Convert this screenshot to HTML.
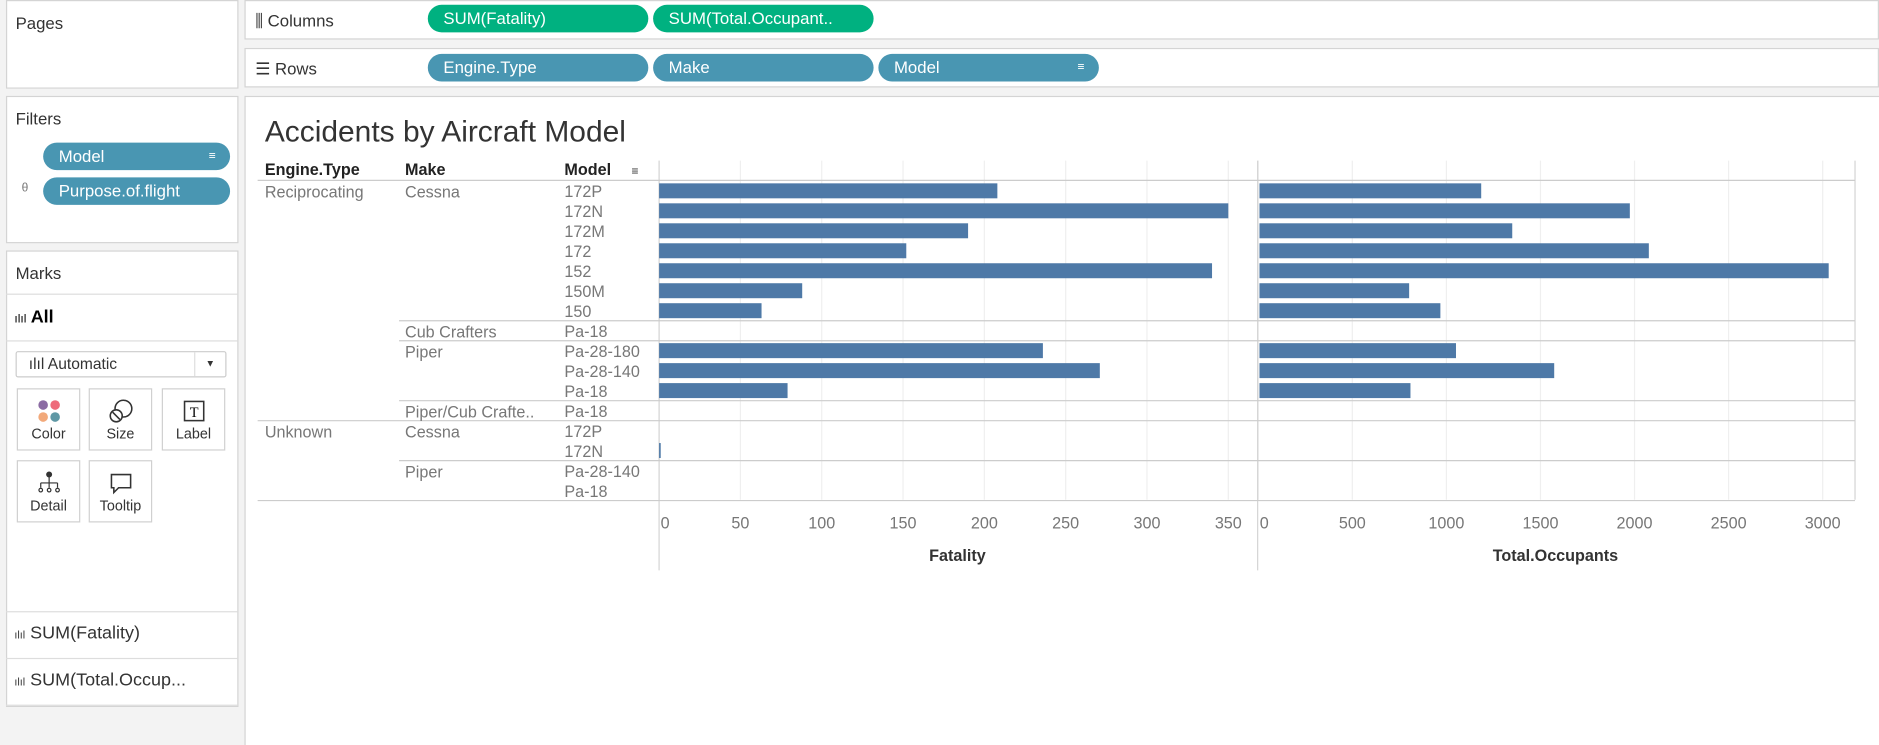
<!DOCTYPE html>
<html><head><meta charset="utf-8">
<style>
html,body{margin:0;padding:0;width:1879px;height:745px;overflow:hidden;background:#f3f3f3;font-family:"Liberation Sans",sans-serif;}
#wrap{position:absolute;left:0;top:0;width:1568px;height:622px;transform:scale(1.19834);transform-origin:0 0;}
.panel{position:absolute;background:#fff;border:1px solid #d4d4d4;box-sizing:border-box;}
.t{position:absolute;font-size:14px;color:#333;white-space:nowrap;}
.pill{position:absolute;height:23px;border-radius:12px;color:#fff;font-size:14px;line-height:23px;padding-left:13px;box-sizing:border-box;white-space:nowrap;overflow:hidden;}
.g{background:#00b180}.b{background:#4996b2}
.btn{position:absolute;width:53px;height:52px;border:1px solid #d0d0d0;box-sizing:border-box;background:#fff;font-size:12px;color:#333;text-align:center;}
.btn span{position:absolute;left:0;right:0;bottom:6px}
.sep{position:absolute;left:5px;width:193px;height:1px;background:#ddd}
</style></head><body>
<div id="wrap">
<div class="panel" style="left:5px;top:0;width:194px;height:74px"><div class="t" style="left:7px;top:10px">Pages</div></div>
<div class="panel" style="left:204px;top:0;width:1364px;height:33px">
 <div class="t" style="left:8px;top:8px">⫼ Columns</div>
</div>
<div class="pill g" style="left:357px;top:4px;width:184px">SUM(Fatality)</div>
<div class="pill g" style="left:545px;top:4px;width:184px">SUM(Total.Occupant..</div>
<div class="panel" style="left:204px;top:40px;width:1364px;height:33px">
 <div class="t" style="left:8px;top:8px">☰ Rows</div>
</div>
<div class="pill b" style="left:357px;top:45px;width:184px">Engine.Type</div>
<div class="pill b" style="left:545px;top:45px;width:184px">Make</div>
<div class="pill b" style="left:733px;top:45px;width:184px">Model<span style="position:absolute;right:12px;font-size:10px">≡</span></div>

<div class="panel" style="left:5px;top:80px;width:194px;height:123px"><div class="t" style="left:7px;top:10px">Filters</div></div>
<div class="pill b" style="left:36px;top:119px;width:156px">Model<span style="position:absolute;right:12px;font-size:10px">≡</span></div>
<div class="t" style="left:18px;top:152px;font-size:10px;color:#777">θ</div>
<div class="pill b" style="left:36px;top:148px;width:156px">Purpose.of.flight</div>

<div class="panel" style="left:5px;top:209px;width:194px;height:381px">
 <div class="t" style="left:7px;top:10px">Marks</div>
</div>
<div class="sep" style="top:245px"></div>
<div class="t" style="left:12px;top:256px;font-size:15px;font-weight:bold;color:#000"><span style="font-size:10px;font-weight:normal">ılıl</span> All</div>
<div class="sep" style="top:284px"></div>
<div style="position:absolute;left:13px;top:293px;width:176px;height:22px;border:1px solid #ccc;border-radius:2px;background:#fff;box-sizing:border-box;font-size:13px;color:#333;line-height:20px;padding-left:10px">ılıl Automatic<span style="position:absolute;right:0;top:0;width:25px;height:20px;border-left:1px solid #ddd;text-align:center;font-size:8px">▼</span></div>
<div class="btn" style="left:14px;top:324px"><svg width="20" height="20" style="margin-top:8px"><circle cx="5" cy="5" r="4" fill="#8b6ba3"/><circle cx="15" cy="5" r="4" fill="#ee6a7a"/><circle cx="5" cy="15" r="4" fill="#f2a97a"/><circle cx="15" cy="15" r="4" fill="#5f98a5"/></svg><span>Color</span></div>
<div class="btn" style="left:74px;top:324px"><svg width="22" height="22" style="margin-top:7px" fill="none" stroke="#333" stroke-width="1.3"><circle cx="13" cy="9" r="7"/><circle cx="7" cy="15" r="5" fill="#fff"/><line x1="4" y1="12" x2="10" y2="18"/></svg><span>Size</span></div>
<div class="btn" style="left:135px;top:324px"><svg width="20" height="20" style="margin-top:8px"><rect x="2" y="2" width="16" height="16" fill="none" stroke="#333" stroke-width="1.3"/><text x="10" y="15" font-size="12" text-anchor="middle" font-family="Liberation Serif">T</text></svg><span>Label</span></div>
<div class="btn" style="left:14px;top:384px"><svg width="20" height="20" style="margin-top:8px" stroke="#333" fill="none"><circle cx="10" cy="3" r="2" fill="#333"/><path d="M10 5v5M3 10h14M3 10v4M10 10v4M17 10v4"/><circle cx="3" cy="16" r="1.5"/><circle cx="10" cy="16" r="1.5"/><circle cx="17" cy="16" r="1.5"/></svg><span>Detail</span></div>
<div class="btn" style="left:74px;top:384px"><svg width="20" height="20" style="margin-top:8px" stroke="#333" fill="none" stroke-width="1.3"><path d="M2 3h16v11H8l-4 4v-4H2z"/></svg><span>Tooltip</span></div>
<div class="sep" style="top:510px"></div>
<div class="t" style="left:12px;top:520px;font-size:15px"><span style="font-size:9px">ılıl</span> SUM(Fatality)</div>
<div class="sep" style="top:549px"></div>
<div class="t" style="left:12px;top:559px;font-size:15px"><span style="font-size:9px">ılıl</span> SUM(Total.Occup...</div>
<div class="sep" style="top:588px"></div>

<div class="panel" style="left:204px;top:80px;width:1364px;height:542px;border-right:none;border-bottom:none"></div>
<svg id="chart" style="position:absolute;left:0;top:0" width="1568" height="622" font-family="Liberation Sans, sans-serif"></svg>
</div>
<script>
const models=["172P","172N","172M","172","152","150M","150","Pa-18","Pa-28-180","Pa-28-140","Pa-18","Pa-18","172P","172N","Pa-28-140","Pa-18"];
const fatality=[208,350,190,152,340,88,63,0,236,271,79,0,0,1,0,0];
const occupants=[1185,1975,1350,2076,3032,802,968,0,1051,1573,809,0,0,0,0,0];
const fatTicks=[0,50,100,150,200,250,300,350];
const occTicks=[0,500,1000,1500,2000,2500,3000];
const makes=[["Cessna",0],["Cub Crafters",7],["Piper",8],["Piper/Cub Crafte..",11],["Cessna",12],["Piper",14]];
const engines=[["Reciprocating",0],["Unknown",12]];
const svg=document.getElementById('chart');const NS='http://www.w3.org/2000/svg';
function el(t,a,txt){const e=document.createElementNS(NS,t);for(const k in a)e.setAttribute(k,a[k]);if(txt!==undefined)e.textContent=txt;svg.appendChild(e);return e;}
const top0=151,rowH=16.67;
const xF=v=>550+v*(1025-550)/350, xO=v=>1050+v*(1521-1050)/3000;
const yRow=i=>top0+i*rowH;
let e;
e=el('text',{x:221,y:118,'font-size':25,fill:'#333'},'Accidents by Aircraft Model');


[["Engine.Type",221],["Make",338],["Model",471]].forEach(h=>{e=el('text',{x:h[1],y:146,'font-size':13.5,'font-weight':'bold',fill:'#222'},h[0]);

});
el('text',{x:527,y:146,'font-size':10,fill:'#333'},'≡');
fatTicks.forEach(t=>el('line',{x1:xF(t),x2:xF(t),y1:134,y2:417,stroke:'#efefef'}));
occTicks.forEach(t=>el('line',{x1:xO(t),x2:xO(t),y1:134,y2:417,stroke:'#efefef'}));
el('line',{x1:550,x2:550,y1:134,y2:476,stroke:'#d4d4d4'});
el('line',{x1:1049.5,x2:1049.5,y1:134,y2:476,stroke:'#d4d4d4'});
el('line',{x1:1548,x2:1548,y1:134,y2:417,stroke:'#d4d4d4'});
el('line',{x1:215,x2:1548,y1:top0-0.5,y2:top0-0.5,stroke:'#ccc'});
[7,8,11].forEach(r=>el('line',{x1:333,x2:1548,y1:yRow(r),y2:yRow(r),stroke:'#ccc'}));
el('line',{x1:215,x2:1548,y1:yRow(12),y2:yRow(12),stroke:'#ccc'});
el('line',{x1:333,x2:1548,y1:yRow(14),y2:yRow(14),stroke:'#ccc'});
el('line',{x1:215,x2:1548,y1:yRow(16),y2:yRow(16),stroke:'#ccc'});
engines.forEach(m=>{e=el('text',{x:221,y:yRow(m[1])+14,'font-size':13.5,fill:'#777'},m[0]);

});
makes.forEach(m=>{e=el('text',{x:338,y:yRow(m[1])+14,'font-size':13.5,fill:'#777'},m[0]);

});
models.forEach((m,i)=>{e=el('text',{x:471,y:yRow(i)+13.5,'font-size':13.5,fill:'#777'},m);


if(fatality[i]>0){e=el('rect',{x:550,y:yRow(i)+2,width:Math.max(1,xF(fatality[i])-550),height:12.5,fill:'#4e79a7'});

}
if(occupants[i]>0){e=el('rect',{x:1051,y:yRow(i)+2,width:xO(occupants[i])-1051,height:12.5,fill:'#4e79a7'});

}
});
fatTicks.forEach(t=>{e=el('text',{x:xF(t)+(t===0?5:0),y:441,'font-size':13.5,fill:'#777','text-anchor':'middle'},t);

});
occTicks.forEach(t=>{e=el('text',{x:xO(t)+(t===0?5:0),y:441,'font-size':13.5,fill:'#777','text-anchor':'middle'},t);

});
e=el('text',{x:799,y:468,'font-size':13.5,'font-weight':'bold',fill:'#333','text-anchor':'middle'},'Fatality');


e=el('text',{x:1298,y:468,'font-size':13.5,'font-weight':'bold',fill:'#333','text-anchor':'middle'},'Total.Occupants');


</script>
</body></html>
